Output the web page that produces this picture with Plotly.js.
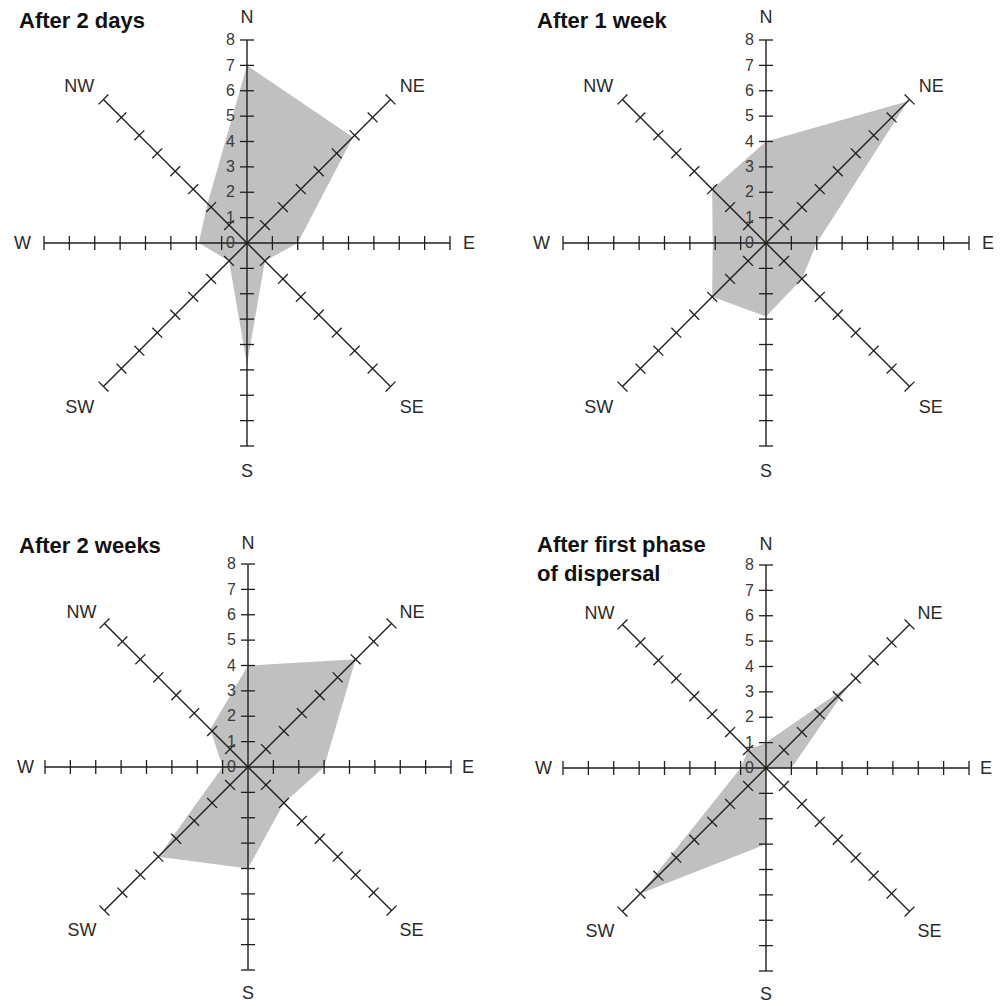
<!DOCTYPE html>
<html>
<head>
<meta charset="utf-8">
<script src="https://cdn.plot.ly/plotly-3.0.1.min.js"></script>
<style>
  html, body { margin: 0; padding: 0; background: #ffffff; }
  #chart { width: 1000px; height: 1006px; }
</style>
</head>
<body>
<div id="chart"></div>
<script>
// ---- Data ----
const directions = ['N', 'NE', 'E', 'SE', 'S', 'SW', 'W', 'NW'];
const bearings = [0, 45, 90, 135, 180, 225, 270, 315];
const radialTicks = [0, 1, 2, 3, 4, 5, 6, 7, 8];
const radialTickLabels = ['0', '1', '2', '3', '4', '5', '6', '7', '8'];
const axisTickValues = [1, 2, 3, 4, 5, 6, 7, 8];
const axisMax = 8;

const after2Days = [7, 5.9, 2, 1, 4.8, 1, 1.9, 2.2];
const after1Week = [4, 7.9, 2, 2, 2.9, 3, 2.1, 3];
const after2Weeks = [4, 6, 3, 2, 4, 5, 1, 2.1];
const afterFirstPhase = [1, 4.6, 1, 0, 3, 7, 1, 1];

const panelTitles = ['After 2 days', 'After 1 week', 'After 2 weeks', 'After first phase<br>of dispersal'];
const panelSeries = [after2Days, after1Week, after2Weeks, afterFirstPhase];

// ---- Layout geometry (pixels) ----
const W = 1000, H = 1006;
const R = 203;
const centers = [[247, 243], [766, 243], [248, 767], [766, 768]];
const titlePos = [[17, 20], [535, 20], [17, 545], [535, 559]];
const labelPad = [9, 9, 7, 7];

const FONT = 'Liberation Sans, Arial, Helvetica, sans-serif';
const AXIS_COLOR = '#1e1e1e';

const traces = [];
const layout = {
  width: W, height: H,
  margin: { l: 0, r: 0, t: 0, b: 0, pad: 0 },
  paper_bgcolor: '#ffffff',
  plot_bgcolor: '#ffffff',
  showlegend: false,
  font: { family: FONT, color: '#222' },
  annotations: []
};

panelSeries.forEach((vals, i) => {
  const pid = i === 0 ? 'polar' : 'polar' + (i + 1);
  const [cx, cy] = centers[i];

  // filled area
  traces.push({
    type: 'scatterpolar',
    subplot: pid,
    r: vals.concat([vals[0]]),
    theta: directions.concat([directions[0]]),
    mode: 'lines',
    fill: 'toself',
    fillcolor: '#c0c0c0',
    line: { width: 0, color: 'rgba(0,0,0,0)' },
    hoverinfo: 'skip'
  });

  // spokes (axes)
  const sr = [], st = [];
  directions.forEach(d => { sr.push(0, axisMax, null); st.push(d, d, d); });
  traces.push({
    type: 'scatterpolar',
    subplot: pid,
    r: sr, theta: st,
    mode: 'lines',
    connectgaps: false,
    line: { color: AXIS_COLOR, width: 1.4 },
    hoverinfo: 'skip'
  });

  // tick marks on every spoke
  const tr = [], tt = [], ta = [];
  directions.forEach((d, k) => {
    axisTickValues.forEach(v => { tr.push(v); tt.push(d); ta.push(bearings[k]); });
  });
  traces.push({
    type: 'scatterpolar',
    subplot: pid,
    r: tr, theta: tt,
    mode: 'markers',
    marker: { symbol: 'line-ew', size: 10, angle: ta, color: AXIS_COLOR,
              line: { color: AXIS_COLOR, width: 1.3 } },
    hoverinfo: 'skip'
  });

  layout[pid] = {
    domain: { x: [(cx - R) / W, (cx + R) / W], y: [1 - (cy + R) / H, 1 - (cy - R) / H] },
    bgcolor: 'rgba(0,0,0,0)',
    radialaxis: {
      range: [0, axisMax],
      angle: 90,
      side: 'counterclockwise',
      tickmode: 'array',
      tickvals: radialTicks,
      ticktext: radialTickLabels,
      tickangle: 90,
      showgrid: false,
      showline: false,
      ticks: 'outside', ticklen: 6, tickcolor: 'rgba(0,0,0,0)',
      tickfont: { family: FONT, size: 16, color: '#3a3a3a' },
      layer: 'above traces'
    },
    angularaxis: {
      type: 'category',
      categoryarray: directions,
      rotation: 90,
      direction: 'clockwise',
      showgrid: false,
      showline: false,
      ticks: 'outside', ticklen: labelPad[i], tickcolor: 'rgba(0,0,0,0)',
      tickfont: { family: FONT, size: 18, color: '#2a2a2a' },
      layer: 'above traces'
    }
  };

  const [tx, ty] = titlePos[i];
  layout.annotations.push({
    xref: 'paper', yref: 'paper',
    x: tx / W, y: 1 - ty / H,
    xanchor: 'left', yanchor: 'middle', align: 'left',
    showarrow: false,
    text: '<b>' + panelTitles[i] + '</b>',
    font: { family: FONT, size: 22, color: '#111' }
  });
});

Plotly.newPlot('chart', traces, layout, { staticPlot: true, displayModeBar: false });
</script>
</body>
</html>
